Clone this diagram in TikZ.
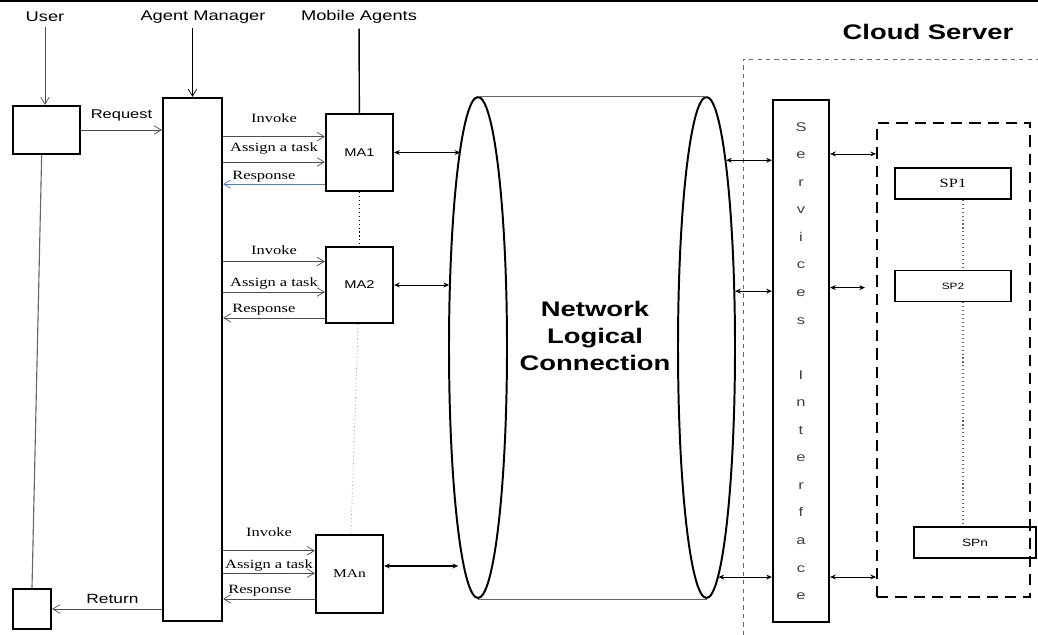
\documentclass[tikz,border=0pt]{standalone}
\usepackage{fontspec}
\setmainfont{Liberation Serif}[FakeStretch=1.3]
\newfontfamily\arialw{Liberation Sans}[FakeStretch=1.3]
\usetikzlibrary{arrows.meta,shapes.geometric,calc}
\newcommand{\unitpx}{0.025cm}
\definecolor{respblue}{RGB}{70,125,205}

\begin{document}
\begin{tikzpicture}[x=0.025cm,y=-0.025cm,
    box/.style={draw,line width=1.6pt,inner sep=0pt},
    agent/.style={box,minimum width=67*\unitpx,minimum height=77*\unitpx,font=\arialw\fontsize{8}{10}\selectfont},
    spbox/.style={draw,line width=1.2pt,inner sep=0pt,minimum width=116*\unitpx,minimum height=31*\unitpx},
    cyl/.style={ellipse,draw,line width=1.4pt,inner sep=0pt,minimum width=58*\unitpx,minimum height=501*\unitpx},
    msg/.style={draw=black!70,line width=0.5pt,-{Straight Barb[length=5pt,width=6pt]}},
    dbl/.style={line width=0.5pt,{Stealth[length=4pt,width=3.5pt]}-{Stealth[length=4pt,width=3.5pt]}},
    head/.style={font=\arialw\fontsize{10}{12}\selectfont},
    lbl/.style={font=\fontsize{9}{10}\selectfont,inner sep=1.5pt}]
\useasboundingbox (0,0) rectangle (1038,635);
\draw[line width=1.2pt] (0,1) -- (1038,1);

% headers
\node[head] (huser) at (45,17) {User};
\node[head] (ham) at (203,17) {Agent Manager};
\node[head] (hma) at (359,17) {Mobile Agents};
\node[font=\arialw\bfseries\fontsize{15}{18}\selectfont] (hcloud) at (928,32) {Cloud Server};

% user and agent manager
\node[box,minimum width=67*\unitpx,minimum height=48*\unitpx] (user) at (46.5,130) {};
\node[box,minimum width=38*\unitpx,minimum height=40*\unitpx] (uend) at (32,609) {};
\node[box,minimum width=59*\unitpx,minimum height=523*\unitpx] (am) at (192.5,359.5) {};
\draw[msg] (huser) -- (huser |- user.north);
\draw[msg,draw=black] (ham.south -| am.north) -- (am.north);
\draw[black!60,line width=0.8pt] ($(user.south west)!0.43!(user.south east)$) -- (uend.north);
\draw[msg] (user.east) -- node[head,font=\arialw\fontsize{9}{11}\selectfont,above=3pt] {Request} (user.east -| am.west);
\draw[msg] (am.west |- uend) -- node[head,font=\arialw\fontsize{9.5}{11}\selectfont,above,pos=0.45] {Return} (uend.east);

% mobile agents
\node[agent] (ma1) at (359.5,152.5) {MA1};
\node[agent,minimum height=76*\unitpx] (ma2) at (359.5,285) {MA2};
\node[agent,minimum height=78*\unitpx,font=\fontsize{8.5}{10}\selectfont] (man) at (349.5,574) {MAn};
\draw[line width=1pt] (hma) -- (ma1);
\draw[dotted,line width=0.8pt] (ma1) -- (ma2);
\draw[dotted,black!40,line width=0.6pt] (ma2) -- (man);
\foreach \m/\a/\b/\c/\col/\si/\st in {ma1/0.30/0.62/0.90/respblue/8pt/3.5pt,
    ma2/0.20/0.59/0.92/black!70/3pt/0pt, man/0.21/0.49/0.81/black!70/8pt/0pt} {
  \coordinate (\m-i) at ($(\m.north west)!\a!(\m.south west)$);
  \coordinate (\m-t) at ($(\m.north west)!\b!(\m.south west)$);
  \coordinate (\m-r) at ($(\m.north west)!\c!(\m.south west)$);
  \draw[msg] (am.east |- \m-i) -- node[lbl,above=\si] {Invoke} (\m-i);
  \draw[msg] (am.east |- \m-t) -- node[lbl,above=\st] {Assign a task} (\m-t);
  \draw[msg,draw=\col] (\m-r) -- node[lbl,above,pos=0.6] {Response} (am.east |- \m-r);
}

% network logical connection
\node[cyl] (nlcl) at (478,347.5) {};
\node[cyl,minimum width=57*\unitpx] (nlcr) at (706.5,347.5) {};
\draw[black!60] (nlcl.north) -- (nlcr.north);
\draw[black!60] (nlcl.south) -- (nlcr.south);
\node[font=\arialw\bfseries\fontsize{15}{19}\selectfont,align=center] (nlc) at (595,336) {Network\\Logical\\Connection};
\coordinate (man-e) at ($(man.north east)!0.4!(man.south east)$);
\draw[dbl] (ma1.east) -- (ma1.east -| nlcl.95);
\draw[dbl] (ma2.east) -- (ma2.east -| nlcl.114);
\draw[dbl,line width=1pt] (man-e) -- (man-e -| nlcl.264);

% cloud server
\draw[black!60,dashed,line width=0.5pt] (743,635) -- (743,59) -- (1038,59);
\node[box,minimum width=56*\unitpx,minimum height=522*\unitpx,text=black!75,
    font=\arialw\fontsize{9}{19.6}\selectfont,align=center] (si) at (801,361)
    {S\\e\\r\\v\\i\\c\\e\\s\\\mbox{}\\I\\n\\t\\e\\r\\f\\a\\c\\e};
\draw[dbl] (nlcr.84) -- (nlcr.84 -| si.west);
\draw[dbl] (nlcr.63) -- (nlcr.63 -| si.west);
\draw[dbl] (nlcr.-87.5) -- (nlcr.-87.5 -| si.west);

\node[draw,line width=1.5pt,dash pattern=on 8pt off 5pt,inner sep=0pt,
    minimum width=153*\unitpx,minimum height=474*\unitpx] (spg) at (953.5,360) {};
\coordinate (s1) at ($(si.north east)!0.105!(si.south east)$);
\coordinate (s2) at ($(si.north east)!0.36!(si.south east)$);
\coordinate (s3) at ($(si.north east)!0.912!(si.south east)$);
\draw[dbl] (s1) -- (s1 -| spg.west);
\draw[dbl] (s2) -- ($(s2 -| spg.west)+(-11,0)$);
\draw[dbl] (s3) -- (s3 -| spg.west);

\node[spbox,font=\fontsize{9}{10}\selectfont] (sp1) at (953,183.5) {SP1};
\node[spbox,font=\arialw\fontsize{6.5}{8}\selectfont] (sp2) at (953,286) {SP2};
\node[spbox,minimum width=122*\unitpx,font=\arialw\fontsize{7.5}{9}\selectfont] (spn) at (975,542.5) {SPn};
\draw[dotted,black!60,line width=0.8pt] ([xshift=0.25cm]sp1.south) -- ([xshift=0.25cm]sp2.north);
\draw[dotted,black!60,line width=0.8pt] ([xshift=0.25cm]sp2.south) -- ([xshift=0.25cm]sp2.south |- spn.north);
\end{tikzpicture}
\end{document}
